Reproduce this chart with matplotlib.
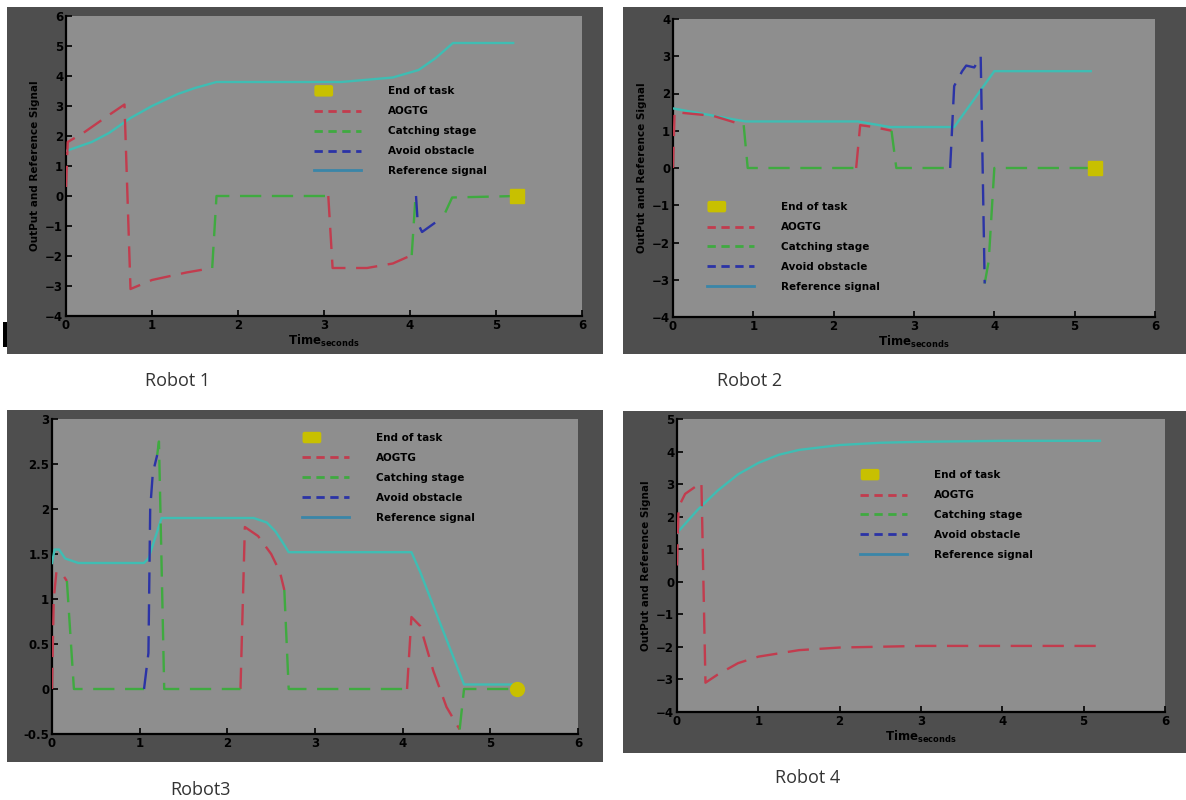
import numpy as np
import matplotlib
matplotlib.use('Agg')
import matplotlib.pyplot as plt
from matplotlib.lines import Line2D
from matplotlib.patches import Rectangle, Patch, FancyBboxPatch
from matplotlib.legend_handler import HandlerPatch

nan = np.nan

# ---- Robot 1 ----
r1_ref_t = [0, 0.3, 0.5, 0.75, 1.0, 1.3, 1.5, 1.75, 2.0, 3.0, 3.2, 3.8, 4.1, 4.3, 4.5, 5.2]
r1_ref_y = [1.5, 1.8, 2.1, 2.6, 3.0, 3.4, 3.6, 3.8, 3.8, 3.8, 3.8, 3.95, 4.2, 4.6, 5.1, 5.1]
r1_red_t = [0, 0.02, 0.2, 0.5, 0.68, 0.75, 1.0, 1.4, 1.7, nan, 3.05, 3.1, 3.5, 3.8, 4.02]
r1_red_y = [0.3, 1.8, 2.1, 2.7, 3.05, -3.1, -2.8, -2.55, -2.4, nan, 0, -2.4, -2.4, -2.25, -1.97]
r1_grn_t = [1.7, 1.75, 3.05, nan, 4.02, 4.06, nan, 4.41, 4.49, 5.24]
r1_grn_y = [-2.4, 0, 0, nan, -1.97, -0.2, nan, -0.55, -0.05, 0]
r1_blu_t = [4.07, 4.09, 4.14, 4.35]
r1_blu_y = [0.0, -0.9, -1.2, -0.77]
r1_end = (5.24, 0)

# ---- Robot 2 ----
r2_ref_t = [0, 0.9, 2.3, 2.7, 3.5, 3.8, 4.0, 5.2]
r2_ref_y = [1.6, 1.25, 1.25, 1.1, 1.1, 2.0, 2.6, 2.6]
r2_red_t = [0, 0.02, 0.5, 0.88, nan, 2.28, 2.33, 2.5, 2.72]
r2_red_y = [0, 1.5, 1.4, 1.15, nan, 0, 1.15, 1.1, 1.0]
r2_grn_t = [0.88, 0.93, 2.28, nan, 2.72, 2.78, 3.45, nan, 3.88, 3.93, 4.0, 5.2]
r2_grn_y = [1.15, 0, 0, nan, 1.0, 0, 0, nan, -3.1, -2.5, 0, 0]
r2_blu_t = [3.45, 3.5, 3.6, 3.65, 3.75, 3.83, 3.88]
r2_blu_y = [0, 2.2, 2.6, 2.75, 2.7, 3.0, -3.1]
r2_end = (5.25, 0)

# ---- Robot 3 ----
r3_ref_t = [0, 0.03, 0.08, 0.15, 0.3, 1.05, 1.1, 1.15, 1.25, 2.3, 2.45, 2.55, 2.65, 2.7, 4.1, 4.2, 4.7, 5.3]
r3_ref_y = [1.4, 1.55, 1.55, 1.45, 1.4, 1.4, 1.45, 1.6, 1.9, 1.9, 1.85, 1.75, 1.6, 1.52, 1.52, 1.3, 0.05, 0.05]
r3_red_t = [0, 0.02, 0.05, 0.1, 0.17, nan, 2.15, 2.2, 2.35, 2.5, 2.6, 2.65, nan, 4.05, 4.1, 4.2, 4.35, 4.5, 4.65]
r3_red_y = [0, 1.0, 1.3, 1.3, 1.2, nan, 0, 1.8, 1.7, 1.5, 1.3, 1.1, nan, 0, 0.8, 0.7, 0.2, -0.2, -0.45]
r3_grn_t = [0.17, 0.25, 1.05, nan, 1.2, 1.22, 1.28, 2.15, nan, 2.65, 2.7, 4.05, nan, 4.65, 4.7, 5.3]
r3_grn_y = [1.2, 0, 0, nan, 2.6, 2.75, 0, 0, nan, 1.1, 0, 0, nan, -0.45, 0, 0]
r3_blu_t = [1.05, 1.1, 1.12, 1.15, 1.2]
r3_blu_y = [0, 0.4, 2.0, 2.4, 2.6]
r3_end = (5.3, 0)

# ---- Robot 4 ----
r4_ref_t = [0, 0.25, 0.5, 0.75, 1.0, 1.25, 1.5, 2.0, 2.5, 3.0, 4.0, 5.2]
r4_ref_y = [1.5, 2.2, 2.8, 3.3, 3.65, 3.9, 4.05, 4.2, 4.27, 4.3, 4.33, 4.33]
r4_red_t = [0, 0.02, 0.1, 0.3, 0.35, 0.5, 0.75, 1.0, 1.5, 2.0, 3.0, 5.2]
r4_red_y = [0.5, 2.3, 2.7, 3.05, -3.1, -2.85, -2.5, -2.3, -2.1, -2.02, -1.97, -1.97]

labels = ['End of task', 'AOGTG', 'Catching stage', 'Avoid obstacle', 'Reference signal']
captions = ['Robot 1', 'Robot 2', 'Robot3', 'Robot 4']

W, H = 1186, 800
c_ref = '#3fbdb3'
c_red = '#c23c4e'
c_grn = '#3faa40'
c_blu = '#2b33a6'
c_end = '#c8c000'
frame_c = '#4e4e4e'
bg_c = '#8e8e8e'
dash = (9, 4.5)

fig = plt.figure(figsize=(11.86, 8), dpi=100)
fig.patch.set_facecolor('white')


def px_axes(x0, x1, y0, y1):
    # pixel box (left, right, top, bottom) -> figure axes
    return fig.add_axes([x0 / W, 1 - y1 / H, (x1 - x0) / W, (y1 - y0) / H])


def frame(x0, x1, y0, y1):
    fig.add_artist(Rectangle((x0 / W, 1 - y1 / H), (x1 - x0) / W, (y1 - y0) / H,
                             transform=fig.transFigure, facecolor=frame_c,
                             edgecolor='none', zorder=0))


def style(ax, ylim, yticks, yticklabels=None, xlabel=True, ylabel=True):
    ax.set_facecolor(bg_c)
    ax.set_xlim(0, 6)
    ax.set_ylim(*ylim)
    ax.set_xticks(range(7))
    ax.set_yticks(yticks)
    if yticklabels is not None:
        ax.set_yticklabels(yticklabels)
    for s in ['top', 'right']:
        ax.spines[s].set_visible(False)
    for s in ['left', 'bottom']:
        ax.spines[s].set_linewidth(1.6)
        ax.spines[s].set_color('black')
    ax.tick_params(direction='in', length=4, width=1.2, labelsize=8.5, pad=2, colors='black')
    for lb in ax.get_xticklabels() + ax.get_yticklabels():
        lb.set_fontweight('bold')
    if xlabel:
        ax.set_xlabel(r'Time$_{\mathbf{seconds}}$', fontsize=8.5, fontweight='bold', labelpad=1)
    if ylabel:
        ax.set_ylabel('OutPut and Reference Signal', fontsize=7.5, fontweight='bold', labelpad=4)


def draw(ax, ref, red, grn=None, blu=None, end=None, end_marker='s'):
    ax.plot(ref[0], ref[1], color=c_ref, lw=1.7, zorder=3)
    ax.plot(red[0], red[1], color=c_red, lw=1.7, dashes=dash, zorder=4)
    if grn is not None:
        ax.plot(grn[0], grn[1], color=c_grn, lw=1.7, dashes=dash, zorder=4)
    if blu is not None:
        ax.plot(blu[0], blu[1], color=c_blu, lw=1.7, dashes=dash, zorder=5)
    if end is not None:
        ax.plot([end[0]], [end[1]], marker=end_marker, ms=10, color=c_end, zorder=6, clip_on=False)


def end_patch(legend, orig_handle, xdescent, ydescent, width, height, fontsize):
    return FancyBboxPatch((-xdescent + 2, -ydescent), height * 2.0, height,
                          boxstyle='round,pad=1.5')


def legend(ax, anchor):
    handles = [Patch(facecolor=c_end, edgecolor='none'),
               Line2D([], [], color=c_red, lw=2, dashes=(3, 2)),
               Line2D([], [], color=c_grn, lw=2, dashes=(3, 2)),
               Line2D([], [], color=c_blu, lw=2, dashes=(3, 2)),
               Line2D([], [], color='#3a86a8', lw=2)]
    leg = ax.legend(handles, labels, loc='upper left', bbox_to_anchor=anchor,
                    frameon=False, handlelength=4.5, handletextpad=2.6,
                    labelspacing=0.95, borderpad=0, borderaxespad=0,
                    handler_map={Patch: HandlerPatch(patch_func=end_patch)},
                    prop={'size': 7.5, 'weight': 'bold'})
    leg.set_zorder(7)


# Robot 1
frame(7, 603, 7, 354)
ax1 = px_axes(66, 582, 16, 316)
draw(ax1, (r1_ref_t, r1_ref_y), (r1_red_t, r1_red_y), (r1_grn_t, r1_grn_y),
     (r1_blu_t, r1_blu_y), r1_end)
style(ax1, (-4, 6), range(-4, 7))
legend(ax1, (0.48, 0.765))

# Robot 2
frame(623, 1186, 7, 354)
ax2 = px_axes(673, 1155, 19, 317)
draw(ax2, (r2_ref_t, r2_ref_y), (r2_red_t, r2_red_y), (r2_grn_t, r2_grn_y),
     (r2_blu_t, r2_blu_y), r2_end)
style(ax2, (-4, 4), range(-4, 5))
legend(ax2, (0.07, 0.385))

# Robot 3
frame(7, 603, 410, 762)
ax3 = px_axes(52, 578, 419, 734)
draw(ax3, (r3_ref_t, r3_ref_y), (r3_red_t, r3_red_y), (r3_grn_t, r3_grn_y),
     (r3_blu_t, r3_blu_y), r3_end, end_marker='o')
style(ax3, (-0.5, 3), np.arange(-0.5, 3.01, 0.5),
      ['-0.5', '0', '0.5', '1', '1.5', '2', '2.5', '3'], xlabel=False, ylabel=False)
legend(ax3, (0.475, 0.955))

# Robot 4
frame(623, 1186, 411, 753)
ax4 = px_axes(677, 1165, 419, 712)
draw(ax4, (r4_ref_t, r4_ref_y), (r4_red_t, r4_red_y))
style(ax4, (-4, 5), range(-4, 6))
legend(ax4, (0.375, 0.825))

# small black mark at left of first panel
fig.add_artist(Rectangle((3 / W, 1 - 347 / H), 4 / W, 25 / H, transform=fig.transFigure,
                         facecolor='black', edgecolor='none'))

cap_pos = [(178, 381), (750, 381), (200, 790), (808, 778)]
for (cx, cy), txt in zip(cap_pos, captions):
    fig.text(cx / W, 1 - cy / H, txt, ha='center', va='center', fontsize=13,
             color='#333333', family='Open Sans')

fig.savefig('out.png', dpi=100, facecolor='white')
